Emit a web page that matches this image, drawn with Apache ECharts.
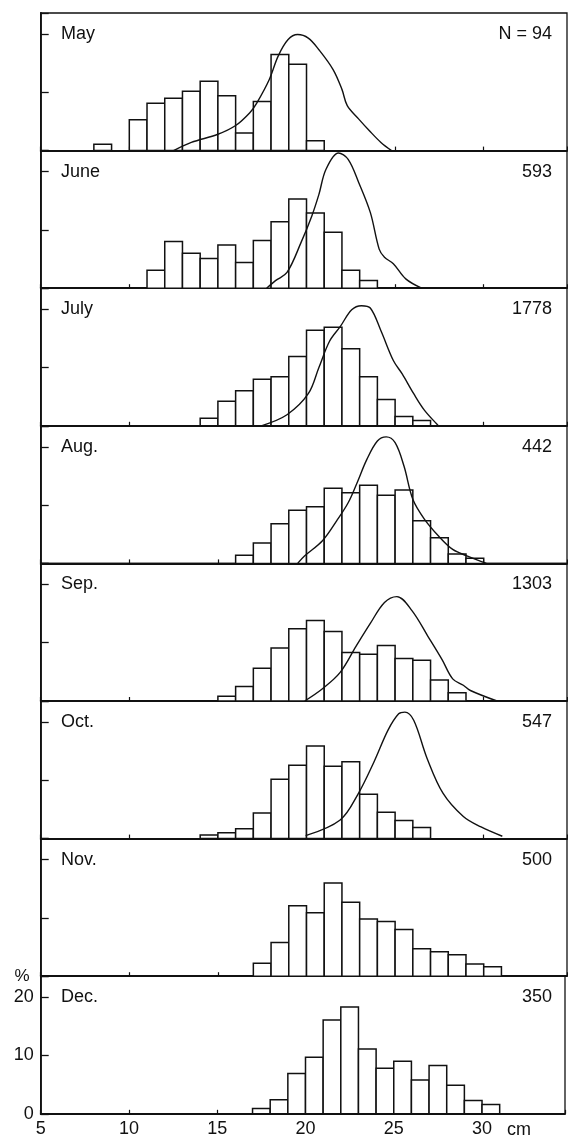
<!DOCTYPE html>
<html><head><meta charset="utf-8">
<script src="https://cdn.jsdelivr.net/npm/echarts@6/dist/echarts.min.js"></script>
<style>html,body{margin:0;padding:0;background:#fff}#c{width:568px;height:1138px}</style>
</head><body><div id="c"></div>
<script>
// ---- DATA ----
const months = ['May', 'June', 'July', 'Aug.', 'Sep.', 'Oct.', 'Nov.', 'Dec.'];
const nLabels = ['N = 94', '593', '1778', '442', '1303', '547', '500', '350'];
const xTickLabels = [5, 10, 15, 20, 25, 30];
const yTickLabels = [0, 10, 20];

const mayBins = [8, 10, 11, 12, 13, 14, 15, 16, 17, 18, 19, 20];
const mayPct  = [1.1, 5.3, 8.1, 9.0, 10.2, 11.9, 9.4, 3.0, 8.4, 16.5, 14.8, 1.7];
const mayCurve = [[12.5,0],[13.5,1.4],[15.0,2.8],[16.0,4.3],[16.8,6.5],[17.2,8.2],[17.9,12.2],[18.4,16.2],[18.95,19.0],[19.5,19.9],[20.1,19.3],[20.7,17.3],[21.5,13.9],[22.0,10.5],[22.3,7.7],[22.95,5.4],[23.55,3.4],[24.2,1.4],[24.8,0]];

const juneBins = [11, 12, 13, 14, 15, 16, 17, 18, 19, 20, 21, 22, 23];
const junePct  = [3.1, 8.0, 6.0, 5.1, 7.4, 4.4, 8.2, 11.4, 15.3, 12.9, 9.6, 3.1, 1.3];
const juneCurve = [[17.75,0],[18.25,1.3],[18.9,2.7],[19.7,7.9],[20.3,12.4],[20.7,16.1],[21.1,20.4],[21.8,23.2],[22.35,22.1],[22.95,18.1],[23.6,13.0],[24.1,6.7],[24.4,5.3],[24.9,4.2],[25.6,1.6],[26.5,0]];

const julyBins = [14, 15, 16, 17, 18, 19, 20, 21, 22, 23, 24, 25, 26];
const julyPct  = [1.3, 4.2, 6.0, 8.0, 8.4, 11.9, 16.4, 16.9, 13.2, 8.4, 4.5, 1.6, 0.9];
const julyCurve = [[17.45,0],[18.9,1.9],[20.1,5.5],[20.7,10.0],[21.3,14.5],[21.9,17.0],[22.55,19.9],[23.1,20.6],[23.6,20.2],[24.2,16.3],[24.9,11.2],[25.4,8.9],[26.05,5.5],[26.65,2.7],[27.45,0]];

const augBins = [16, 17, 18, 19, 20, 21, 22, 23, 24, 25, 26, 27, 28, 29];
const augPct  = [1.4, 3.5, 6.8, 9.1, 9.7, 12.9, 12.1, 13.4, 11.7, 12.6, 7.3, 4.4, 1.6, 0.9];
const augCurve = [[19.5,0],[19.9,1.3],[20.9,3.9],[21.7,7.3],[22.35,10.4],[22.85,13.8],[23.4,17.8],[24.0,21.0],[24.5,21.7],[25.0,20.7],[25.5,16.7],[26.0,11.0],[26.65,7.6],[27.45,4.7],[28.25,2.4],[29.05,1.3],[30.15,0]];

const sepBins = [15, 16, 17, 18, 19, 20, 21, 22, 23, 24, 25, 26, 27, 28];
const sepPct  = [0.8, 2.5, 5.6, 9.1, 12.4, 13.8, 11.9, 8.3, 8.0, 9.5, 7.3, 7.0, 3.6, 1.4];
const sepCurve = [[19.9,0],[20.9,2.1],[21.9,4.9],[22.8,9.4],[23.6,13.3],[24.4,16.9],[25.1,17.9],[25.95,15.5],[26.85,11.1],[27.65,7.1],[28.25,3.8],[28.85,2.7],[29.25,1.8],[30.75,0]];

const octBins = [14, 15, 16, 17, 18, 19, 20, 21, 22, 23, 24, 25, 26];
const octPct  = [0.6, 1.0, 1.7, 4.4, 10.2, 12.6, 15.9, 12.4, 13.2, 7.6, 4.5, 3.1, 1.9];
const octCurve = [[19.95,0.5],[21.9,3.2],[22.9,7.6],[23.8,13.1],[24.6,18.6],[25.2,21.4],[25.55,21.7],[26.05,20.3],[26.8,13.8],[27.7,7.8],[28.85,3.8],[29.85,2.0],[31.05,0.4]];

const novBins = [17, 18, 19, 20, 21, 22, 23, 24, 25, 26, 27, 28, 29, 30];
const novPct  = [2.2, 5.8, 12.1, 10.9, 16.0, 12.7, 9.8, 9.4, 8.0, 4.7, 4.2, 3.7, 2.1, 1.6];

const decBins = [17, 18, 19, 20, 21, 22, 23, 24, 25, 26, 27, 28, 29, 30];
const decPct  = [0.9, 2.4, 6.9, 9.7, 16.1, 18.3, 11.1, 7.8, 9.0, 5.8, 8.3, 4.9, 2.3, 1.6];

const panels = [
  { bins: mayBins,  pct: mayPct,  curve: mayCurve },
  { bins: juneBins, pct: junePct, curve: juneCurve },
  { bins: julyBins, pct: julyPct, curve: julyCurve },
  { bins: augBins,  pct: augPct,  curve: augCurve },
  { bins: sepBins,  pct: sepPct,  curve: sepCurve },
  { bins: octBins,  pct: octPct,  curve: octCurve },
  { bins: novBins,  pct: novPct,  curve: null },
  { bins: decBins,  pct: decPct,  curve: null }
];

// ---- LAYOUT / STYLE ----
const TOP = 13, PH = 137.6, LEFT = 40.7, RIGHT = 1;
const XMIN = 5, XMAX = 34.7, YMAX = 23.6;
const FONT = '"Liberation Sans", Arial, Helvetica, sans-serif';
const INK = '#111';

const grids = [], xAxes = [], yAxes = [], series = [], graphics = [];
panels.forEach((p, i) => {
  const last = i === panels.length - 1;
  const top = TOP + i * PH;
  grids.push({ left: LEFT, right: RIGHT, top: top, height: PH, show: true,
    borderColor: INK, borderWidth: 1.3, backgroundColor: 'transparent' });
  xAxes.push({ gridIndex: i, type: 'value', min: XMIN, max: XMAX, interval: 5,
    axisLine: { show: true, lineStyle: { color: INK, width: 1.8 } },
    axisTick: { show: true, inside: true, length: 4, lineStyle: { color: INK, width: 1.2 } },
    axisLabel: { show: last, margin: 6, color: INK, fontSize: 18, fontFamily: FONT,
      formatter: v => xTickLabels.indexOf(v) >= 0 ? String(v) : '' },
    splitLine: { show: false } });
  yAxes.push({ gridIndex: i, type: 'value', min: 0, max: YMAX, interval: 10,
    axisLine: { show: true, lineStyle: { color: INK, width: 1.8 } },
    axisTick: { show: true, inside: true, length: 8, lineStyle: { color: INK, width: 1.3 } },
    axisLabel: { show: last, margin: 7, color: INK, fontSize: 18, fontFamily: FONT,
      formatter: v => yTickLabels.indexOf(v) >= 0 ? String(v) : '' },
    splitLine: { show: false } });

  series.push({
    type: 'custom', xAxisIndex: i, yAxisIndex: i, z: 2, silent: true,
    encode: { x: 0, y: 1 },
    data: p.bins.map((b, k) => [b, p.pct[k]]),
    renderItem: (params, api) => {
      const x0 = api.value(0), v = api.value(1);
      const a = api.coord([x0, 0]);
      const b = api.coord([x0 + 1, v]);
      return { type: 'rect',
        shape: { x: a[0], y: b[1], width: b[0] - a[0], height: a[1] - b[1] },
        style: { fill: '#fff', stroke: INK, lineWidth: 1.5 } };
    }
  });
  if (p.curve) {
    series.push({ type: 'line', xAxisIndex: i, yAxisIndex: i, z: 5, silent: true,
      data: p.curve, smooth: 0.35, showSymbol: false, symbol: 'none',
      lineStyle: { color: INK, width: 1.4 } });
  }

  const yc = top + 21;
  graphics.push({ type: 'text', x: 61, y: yc,
    style: { text: months[i], fill: INK, font: '18px ' + FONT, textAlign: 'left', textVerticalAlign: 'middle' } });
  graphics.push({ type: 'text', x: 552, y: yc,
    style: { text: nLabels[i], fill: INK, font: '18px ' + FONT, textAlign: 'right', textVerticalAlign: 'middle' } });
});

graphics.push({ type: 'text', x: 22, y: TOP + 7 * PH,
  style: { text: '%', fill: INK, font: '17px ' + FONT, textAlign: 'center', textVerticalAlign: 'middle' } });
graphics.push({ type: 'text', x: 507, y: TOP + 8 * PH + 16,
  style: { text: 'cm', fill: INK, font: '18px ' + FONT, textAlign: 'left', textVerticalAlign: 'middle' } });

const chart = echarts.init(document.getElementById('c'), null, { renderer: 'canvas' });
chart.setOption({
  backgroundColor: '#fff',
  animation: false,
  grid: grids, xAxis: xAxes, yAxis: yAxes, series: series, graphic: graphics
});
</script></body></html>
